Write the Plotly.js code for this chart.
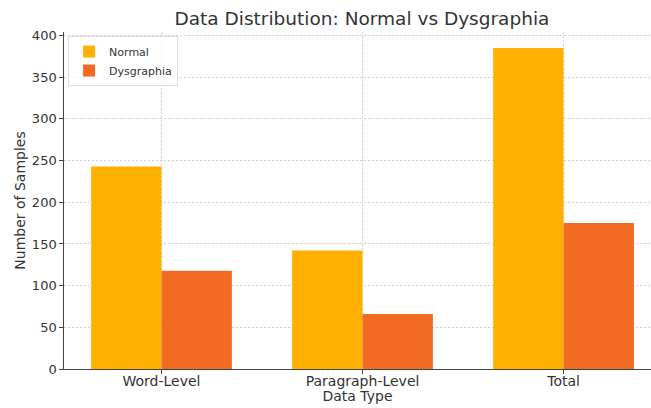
<!DOCTYPE html>
<html>
<head>
<meta charset="utf-8">
<script src="https://cdn.plot.ly/plotly-3.0.1.min.js"></script>
<style>html,body{margin:0;padding:0;background:#fff;}#chart{width:651px;height:408px;}</style>
</head>
<body>
<div id="chart"></div>
<script>
const categories = ["Word-Level", "Paragraph-Level", "Total"];
const normalValues = [243, 142, 385];
const dysgraphiaValues = [118, 66, 175];
const seriesNames = ["Normal", "Dysgraphia"];

const FONT = "DejaVu Sans, sans-serif";
const data = [
  {type: "bar", name: seriesNames[0], x: [0, 1, 2], y: normalValues,
   marker: {color: "#FFB000", line: {width: 0}}},
  {type: "bar", name: seriesNames[1], x: [0, 1, 2], y: dysgraphiaValues,
   marker: {color: "#F26B22", line: {width: 0}}}
];
const layout = {
  width: 651, height: 408,
  margin: {l: 64, r: 0, t: 32, b: 39, pad: 0},
  paper_bgcolor: "#fff", plot_bgcolor: "#fff",
  font: {family: FONT, color: "#333", size: 13},
  title: {text: "Data Distribution: Normal vs Dysgraphia", font: {size: 18.5, color: "#333", family: FONT},
          x: 0.556, xanchor: "center", y: 0.955, yanchor: "middle"},
  barmode: "group", bargap: 0.3, bargroupgap: 0,
  showlegend: true,
  legend: {x: 0.007, y: 0.988, xanchor: "left", yanchor: "top", bgcolor: "rgba(255,255,255,0.8)",
           bordercolor: "#ddd", borderwidth: 1, font: {size: 11, color: "#333"}, tracegroupgap: 0},
  xaxis: {range: [-0.485, 2.435], tickvals: [0, 1, 2], ticktext: categories,
          showgrid: true, gridcolor: "#d0d0d0", griddash: "2px,2px", gridwidth: 1,
          showline: true, linecolor: "#444", linewidth: 1.2, ticks: "outside", ticklen: 3.5, tickcolor: "#444",
          zeroline: false, tickfont: {size: 14, color: "#333"}, ticklabelstandoff: -5,
          title: {text: "Data Type", font: {size: 14, color: "#333"}, standoff: 2}},
  yaxis: {range: [0, 404.25], tickvals: [0, 50, 100, 150, 200, 250, 300, 350, 400],
          showgrid: true, gridcolor: "#d0d0d0", griddash: "2px,2px", gridwidth: 1,
          showline: true, linecolor: "#444", linewidth: 1.2, ticks: "outside", ticklen: 3.5, tickcolor: "#444",
          zeroline: false, tickfont: {size: 13, color: "#333"},
          title: {text: "Number of Samples", font: {size: 14, color: "#333"}, standoff: 3}}
};
Plotly.newPlot("chart", data, layout, {displayModeBar: false, staticPlot: true});
</script>
</body>
</html>
